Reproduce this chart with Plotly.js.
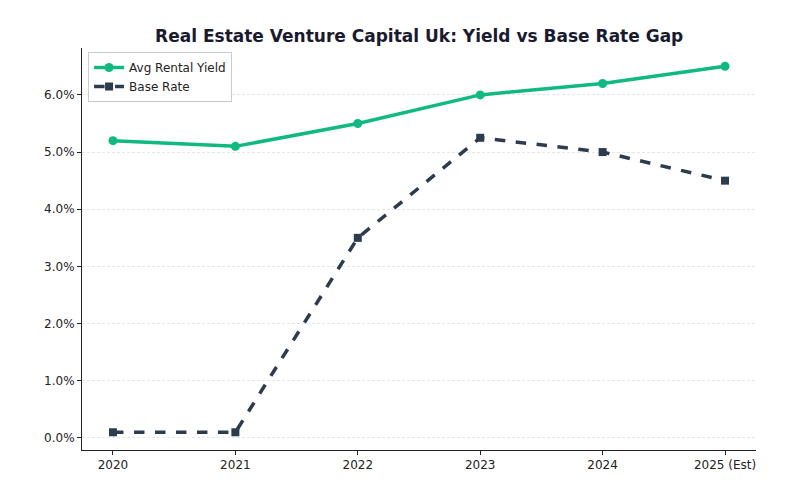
<!DOCTYPE html>
<html>
<head>
<meta charset="utf-8">
<script src="https://cdn.plot.ly/plotly-3.0.1.min.js"></script>
<style>
  html, body { margin: 0; padding: 0; background: #fff; }
  #chart { width: 800px; height: 499px; }
</style>
</head>
<body>
<div id="chart"></div>
<script>
// Years on the horizontal axis
const years = ["2020", "2021", "2022", "2023", "2024", "2025 (Est)"];
// Average rental yield, percent
const rentalYield = [5.2, 5.1, 5.5, 6.0, 6.2, 6.5];
// Bank base rate, percent
const baseRate = [0.1, 0.1, 3.5, 5.25, 5.0, 4.5];
const yTicks = [0, 1, 2, 3, 4, 5, 6];

const font = "DejaVu Sans, Verdana, sans-serif";
const green = "#10b981";
const slate = "#2d3b4e";
const axisColor = "#222222";

const traces = [
  {
    x: years, y: rentalYield, name: "Avg Rental Yield",
    type: "scatter", mode: "lines+markers",
    line: { color: green, width: 3.5 },
    marker: { color: green, size: 9, symbol: "circle" }
  },
  {
    x: years, y: baseRate, name: "Base Rate",
    type: "scatter", mode: "lines+markers",
    line: { color: slate, width: 3.5, dash: "dash" },
    marker: { color: slate, size: 8, symbol: "square" }
  }
];

const layout = {
  width: 800, height: 499,
  margin: { l: 82, r: 44, t: 48, b: 49 },
  paper_bgcolor: "#ffffff", plot_bgcolor: "#ffffff",
  font: { family: font, size: 12, color: "#222222" },
  title: {
    text: "<b>Real Estate Venture Capital Uk: Yield vs Base Rate Gap</b>",
    x: 0.524, xanchor: "center", y: 0.928, yanchor: "middle",
    font: { family: font, size: 17, color: "#1a1a2e" }
  },
  xaxis: {
    type: "category", range: [-0.253, 5.253],
    showgrid: false, zeroline: false,
    showline: true, linecolor: axisColor, linewidth: 1,
    ticks: "outside", ticklen: 4, tickcolor: axisColor,
    tickfont: { family: font, size: 12, color: "#222222" }
  },
  yaxis: {
    range: [-0.21, 6.82],
    tickvals: yTicks, ticktext: yTicks.map(v => v.toFixed(1) + "%"),
    showgrid: true, gridcolor: "#e6e6e6", griddash: "3px,2px", gridwidth: 1,
    zeroline: false,
    showline: true, linecolor: axisColor, linewidth: 1,
    ticks: "outside", ticklen: 4, tickcolor: axisColor,
    tickfont: { family: font, size: 12, color: "#222222" }
  },
  showlegend: true,
  legend: {
    x: 0.009, y: 0.99, xanchor: "left", yanchor: "top",
    bgcolor: "rgba(255,255,255,0.85)", bordercolor: "#cccccc", borderwidth: 1,
    font: { family: font, size: 12, color: "#222222" },
    tracegroupgap: 0, itemwidth: 30
  }
};

Plotly.newPlot("chart", traces, layout, { displayModeBar: false, staticPlot: true });
</script>
</body>
</html>
